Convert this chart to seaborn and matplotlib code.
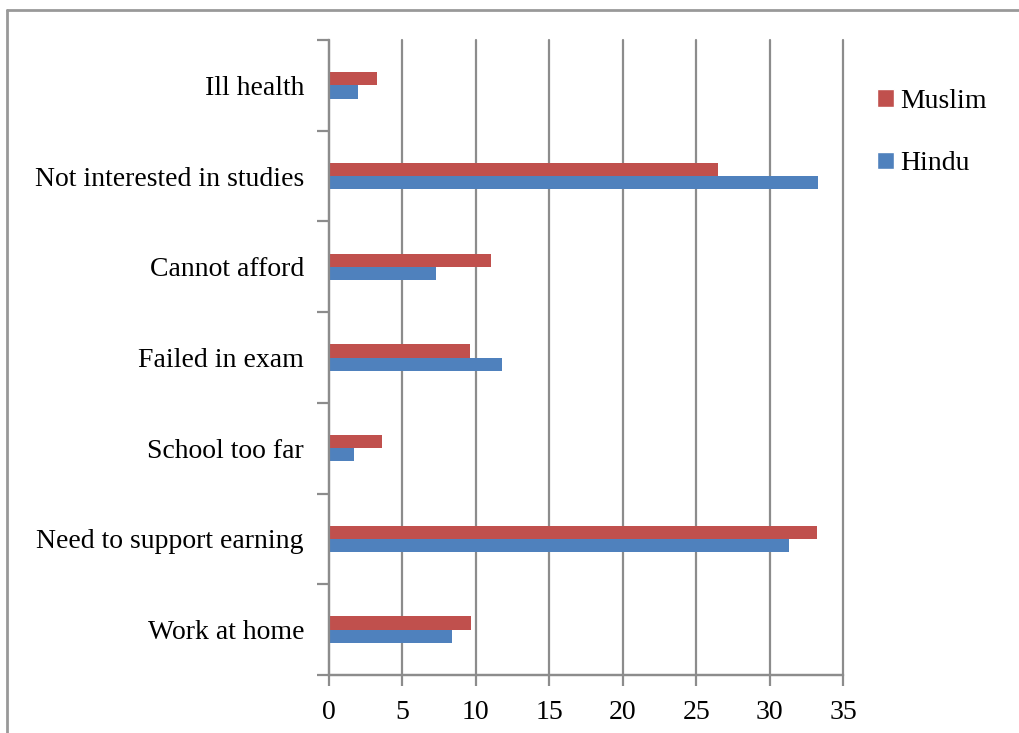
import pandas as pd
import numpy as np
import matplotlib.pyplot as plt
import seaborn as sns
from matplotlib.lines import Line2D
from matplotlib.patches import Patch

categories = ["Ill health", "Not interested in studies", "Cannot afford",
              "Failed in exam", "School too far", "Need to support earning",
              "Work at home"]
muslim = [3.3, 26.5, 11.0, 9.6, 3.6, 33.2, 9.7]
hindu = [2.0, 33.3, 7.3, 11.8, 1.7, 31.3, 8.4]
xticks = [0, 5, 10, 15, 20, 25, 30, 35]

df = pd.DataFrame({
    "reason": categories * 2,
    "value": muslim + hindu,
    "group": ["Muslim"] * len(categories) + ["Hindu"] * len(categories),
})

colors = {"Muslim": "#C0504D", "Hindu": "#4F81BD"}
grey = "#8C8C8C"

sns.set_style("white")
plt.rcParams["font.family"] = ["Liberation Serif", "DejaVu Serif"]
plt.rcParams["text.color"] = "black"

fig = plt.figure(figsize=(10.19, 7.33), dpi=100)
ax = fig.add_axes([329 / 1019, 1 - 675 / 733, 514 / 1019, 635 / 733])

sns.barplot(data=df, y="reason", x="value", hue="group",
            hue_order=["Muslim", "Hindu"], order=categories,
            palette=colors, orient="h", width=0.29, dodge=True,
            saturation=1, legend=False, linewidth=0, ax=ax)

ax.set_xlim(0, 35)
ax.set_ylim(len(categories) - 0.5, -0.5)
ax.set_xticks(xticks)
ax.set_xlabel("")
ax.set_ylabel("")
ax.xaxis.grid(True, color=grey, linewidth=1.6, clip_on=False)
ax.set_axisbelow(True)

for s in ["top", "right"]:
    ax.spines[s].set_visible(False)
for s in ["left", "bottom"]:
    ax.spines[s].set_visible(True)
    ax.spines[s].set_color(grey)
    ax.spines[s].set_linewidth(1.6)
# horizontal axis line, drawn explicitly so it is always visible
ax.axhline(len(categories) - 0.5, color=grey, linewidth=1.6, clip_on=False)

ax.tick_params(axis="x", which="major", direction="out", length=8,
               width=1.6, color=grey, labelsize=20, pad=10, bottom=True,
               labelcolor="black")
ax.tick_params(axis="y", which="major", length=0, labelsize=20, pad=18,
               labelcolor="black")
ax.set_yticks(np.arange(-0.5, len(categories), 1), minor=True)
ax.tick_params(axis="y", which="minor", direction="out", length=9,
               width=1.6, color=grey, left=True)

handles = [Patch(facecolor=colors["Muslim"], label="Muslim"),
           Patch(facecolor=colors["Hindu"], label="Hindu")]
fig.legend(handles=handles, loc="upper left", bbox_to_anchor=(0.836, 0.913),
           frameon=False, fontsize=20, handlelength=0.6, handleheight=0.6,
           handletextpad=0.25, labelspacing=1.35, labelcolor="black")

# outer chart frame (partially visible)
fig.add_artist(Line2D([7 / 1019, 7 / 1019], [0, 1 - 10 / 733],
                      transform=fig.transFigure, color="#999999", linewidth=2))
fig.add_artist(Line2D([7 / 1019, 1], [1 - 10 / 733, 1 - 10 / 733],
                      transform=fig.transFigure, color="#999999", linewidth=2))

plt.savefig("out.png", dpi=100)
